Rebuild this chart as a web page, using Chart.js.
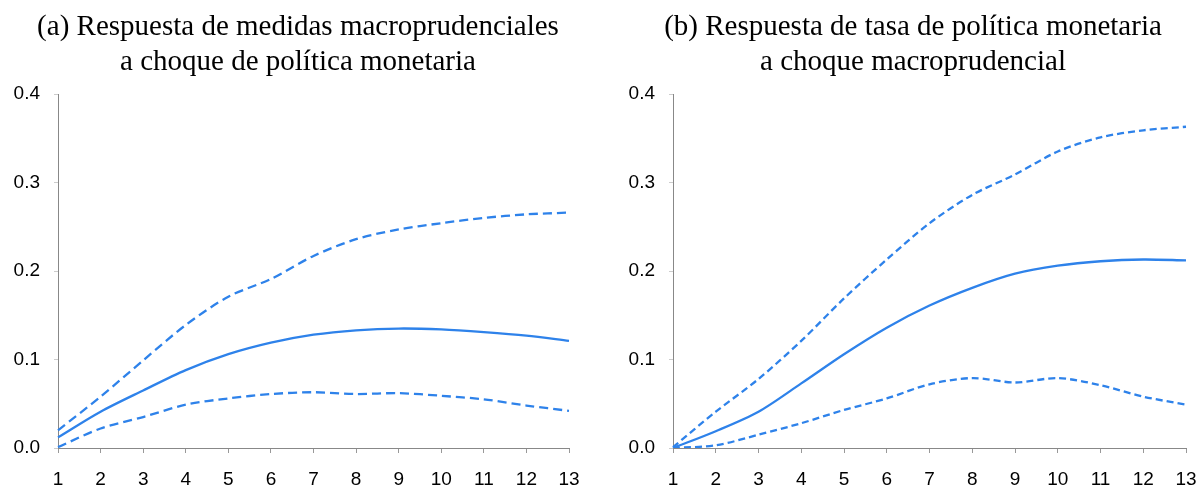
<!DOCTYPE html>
<html>
<head>
<meta charset="utf-8">
<script src="https://cdn.jsdelivr.net/npm/chart.js@4.4.1/dist/chart.umd.min.js"></script>
<style>
    body { margin: 0; background: #fff; }
    #wrap { position: relative; width: 1199px; height: 486px; }
    .box { position: absolute; top: 0; height: 486px; }
</style>
</head>
<body>
<div id="wrap">
    <div class="box" style="left:0;width:596px"><canvas id="chartA"></canvas></div>
    <div class="box" style="left:627px;width:572px"><canvas id="chartB"></canvas></div>
</div>
<script>
// periodos
const periods = ['1','2','3','4','5','6','7','8','9','10','11','12','13']
const yTicks = [0, 0.1, 0.2, 0.3, 0.4]

// (a) medidas macroprudenciales ante choque monetario
const titleA = ['(a) Respuesta de medidas macroprudenciales', 'a choque de política monetaria']
const respA = [0.012, 0.041, 0.065, 0.088, 0.106, 0.119, 0.128, 0.133, 0.135, 0.134, 0.131, 0.127, 0.121]
const upperA = [0.020, 0.058, 0.099, 0.139, 0.171, 0.191, 0.217, 0.236, 0.247, 0.254, 0.260, 0.264, 0.266]
const lowerA = [0.001, 0.022, 0.035, 0.049, 0.056, 0.061, 0.063, 0.061, 0.062, 0.059, 0.055, 0.048, 0.042]

// (b) tasa de politica ante choque macroprudencial
const titleB = ['(b) Respuesta de tasa de política monetaria', 'a choque macroprudencial']
const respB = [0.000, 0.019, 0.041, 0.073, 0.106, 0.136, 0.161, 0.181, 0.197, 0.206, 0.211, 0.213, 0.212]
const upperB = [0.001, 0.041, 0.078, 0.121, 0.169, 0.213, 0.254, 0.286, 0.309, 0.335, 0.351, 0.359, 0.363]
const lowerB = [0.000, 0.003, 0.015, 0.028, 0.043, 0.056, 0.072, 0.079, 0.074, 0.079, 0.071, 0.058, 0.049]

const blue = 'rgb(46, 130, 234)'
const sans = '"Liberation Sans", Arial, sans-serif'

function makeChart(id, title, mid, up, low, yWidth, rightGap, dash) {
    const ds = (data, d) => ({
        data: data,
        borderColor: blue,
        backgroundColor: blue,
        borderWidth: 2.3,
        borderDash: d,
        pointRadius: 0,
        tension: 0.3,
        fill: false
    })
    return new Chart(document.getElementById(id), {
        type: 'line',
        data: {
            labels: periods,
            datasets: [ds(up, dash), ds(mid, []), ds(low, dash)]
        },
        options: {
            responsive: true,
            maintainAspectRatio: false,
            animation: false,
            layout: { padding: 0 },
            plugins: {
                legend: { display: false },
                tooltip: { enabled: false },
                title: {
                    display: true,
                    text: title,
                    color: '#000',
                    font: { family: '"Liberation Serif", "Times New Roman", serif', size: 29, weight: 'normal', lineHeight: 1.207 },
                    padding: { top: 9.5, bottom: 14.5 }
                }
            },
            scales: {
                x: {
                    afterFit: (scale) => {
                        scale.height = 38
                        // the last label fits inside the gap, no extra room needed
                        scale.paddingLeft = 0
                        scale.paddingRight = 0
                    },
                    grid: { display: true, drawOnChartArea: false, drawTicks: true, tickLength: 5, color: '#999' },
                    border: { color: '#888', width: 1 },
                    ticks: {
                        color: '#000', padding: 17, maxRotation: 0, autoSkip: false,
                        font: { family: sans, size: 19, lineHeight: 1 }
                    }
                },
                y: {
                    min: 0,
                    max: 0.4,
                    afterFit: (scale) => { scale.width = yWidth },
                    afterBuildTicks: (scale) => { scale.ticks = yTicks.map(v => ({value: v})) },
                    grid: { display: true, drawOnChartArea: false, drawTicks: true, tickLength: 4, color: '#ccc' },
                    border: { color: '#888', width: 1 },
                    ticks: {
                        color: '#000', padding: 14,
                        font: { family: sans, size: 19 },
                        callback: (v) => Number(v).toFixed(1)
                    }
                },
                // empty axis on the right, only keeps the space so the title stays centred
                gap: {
                    position: 'right',
                    min: 0,
                    max: 1,
                    afterFit: (scale) => { scale.width = rightGap },
                    grid: { display: false },
                    border: { display: false },
                    ticks: { display: false }
                }
            }
        }
    })
}

makeChart('chartA', titleA, respA, upperA, lowerA, 58, 27, [9, 5])
makeChart('chartB', titleB, respB, upperB, lowerB, 46, 13, [7, 4])
</script>
</body>
</html>
